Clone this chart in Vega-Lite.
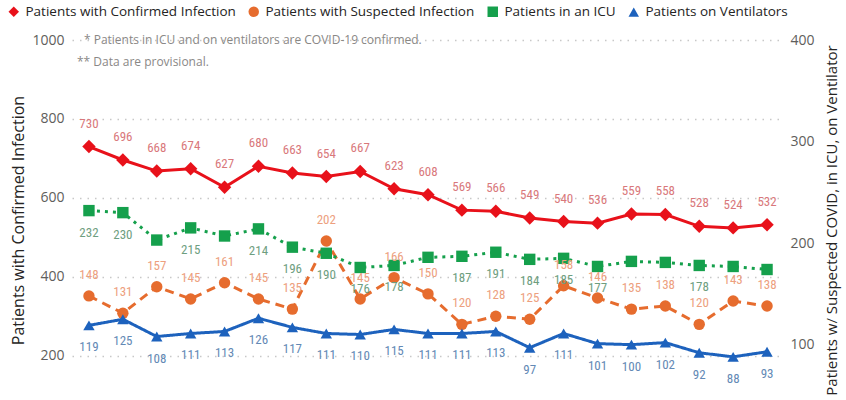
{
  "$schema": "https://vega.github.io/schema/vega-lite/v6.json",
  "width": 712,
  "height": 360,
  "autosize": {"type": "none"},
  "padding": {"left": 72, "top": 40, "right": 62, "bottom": 0},
  "background": "white",
  "config": {
    "view": {"stroke": null},
    "font": "Open Sans",
    "legend": {
      "orient": "none",
      "legendX": -65,
      "legendY": -35,
      "direction": "horizontal",
      "labelFontSize": 13.5,
      "labelFont": "Open Sans",
      "labelColor": "#252423",
      "labelLimit": 400,
      "symbolSize": 110,
      "labelOffset": 5,
      "columnPadding": 9,
      "symbolOpacity": 1
    }
  },
  "data": {
    "values": [
      {"day": 1, "series": "Patients with Confirmed Infection", "value": 730},
      {"day": 2, "series": "Patients with Confirmed Infection", "value": 696},
      {"day": 3, "series": "Patients with Confirmed Infection", "value": 668},
      {"day": 4, "series": "Patients with Confirmed Infection", "value": 674},
      {"day": 5, "series": "Patients with Confirmed Infection", "value": 627},
      {"day": 6, "series": "Patients with Confirmed Infection", "value": 680},
      {"day": 7, "series": "Patients with Confirmed Infection", "value": 663},
      {"day": 8, "series": "Patients with Confirmed Infection", "value": 654},
      {"day": 9, "series": "Patients with Confirmed Infection", "value": 667},
      {"day": 10, "series": "Patients with Confirmed Infection", "value": 623},
      {"day": 11, "series": "Patients with Confirmed Infection", "value": 608},
      {"day": 12, "series": "Patients with Confirmed Infection", "value": 569},
      {"day": 13, "series": "Patients with Confirmed Infection", "value": 566},
      {"day": 14, "series": "Patients with Confirmed Infection", "value": 549},
      {"day": 15, "series": "Patients with Confirmed Infection", "value": 540},
      {"day": 16, "series": "Patients with Confirmed Infection", "value": 536},
      {"day": 17, "series": "Patients with Confirmed Infection", "value": 559},
      {"day": 18, "series": "Patients with Confirmed Infection", "value": 558},
      {"day": 19, "series": "Patients with Confirmed Infection", "value": 528},
      {"day": 20, "series": "Patients with Confirmed Infection", "value": 524},
      {"day": 21, "series": "Patients with Confirmed Infection", "value": 532},
      {"day": 1, "series": "Patients with Suspected Infection", "value": 148},
      {"day": 2, "series": "Patients with Suspected Infection", "value": 131},
      {"day": 3, "series": "Patients with Suspected Infection", "value": 157},
      {"day": 4, "series": "Patients with Suspected Infection", "value": 145},
      {"day": 5, "series": "Patients with Suspected Infection", "value": 161},
      {"day": 6, "series": "Patients with Suspected Infection", "value": 145},
      {"day": 7, "series": "Patients with Suspected Infection", "value": 135},
      {"day": 8, "series": "Patients with Suspected Infection", "value": 202},
      {"day": 9, "series": "Patients with Suspected Infection", "value": 145},
      {"day": 10, "series": "Patients with Suspected Infection", "value": 166},
      {"day": 11, "series": "Patients with Suspected Infection", "value": 150},
      {"day": 12, "series": "Patients with Suspected Infection", "value": 120},
      {"day": 13, "series": "Patients with Suspected Infection", "value": 128},
      {"day": 14, "series": "Patients with Suspected Infection", "value": 125},
      {"day": 15, "series": "Patients with Suspected Infection", "value": 158},
      {"day": 16, "series": "Patients with Suspected Infection", "value": 146},
      {"day": 17, "series": "Patients with Suspected Infection", "value": 135},
      {"day": 18, "series": "Patients with Suspected Infection", "value": 138},
      {"day": 19, "series": "Patients with Suspected Infection", "value": 120},
      {"day": 20, "series": "Patients with Suspected Infection", "value": 143},
      {"day": 21, "series": "Patients with Suspected Infection", "value": 138},
      {"day": 1, "series": "Patients in an ICU", "value": 232},
      {"day": 2, "series": "Patients in an ICU", "value": 230},
      {"day": 3, "series": "Patients in an ICU", "value": 203},
      {"day": 4, "series": "Patients in an ICU", "value": 215},
      {"day": 5, "series": "Patients in an ICU", "value": 207},
      {"day": 6, "series": "Patients in an ICU", "value": 214},
      {"day": 7, "series": "Patients in an ICU", "value": 196},
      {"day": 8, "series": "Patients in an ICU", "value": 190},
      {"day": 9, "series": "Patients in an ICU", "value": 176},
      {"day": 10, "series": "Patients in an ICU", "value": 178},
      {"day": 11, "series": "Patients in an ICU", "value": 186},
      {"day": 12, "series": "Patients in an ICU", "value": 187},
      {"day": 13, "series": "Patients in an ICU", "value": 191},
      {"day": 14, "series": "Patients in an ICU", "value": 184},
      {"day": 15, "series": "Patients in an ICU", "value": 185},
      {"day": 16, "series": "Patients in an ICU", "value": 177},
      {"day": 17, "series": "Patients in an ICU", "value": 182},
      {"day": 18, "series": "Patients in an ICU", "value": 181},
      {"day": 19, "series": "Patients in an ICU", "value": 178},
      {"day": 20, "series": "Patients in an ICU", "value": 177},
      {"day": 21, "series": "Patients in an ICU", "value": 174},
      {"day": 1, "series": "Patients on Ventilators", "value": 119},
      {"day": 2, "series": "Patients on Ventilators", "value": 125},
      {"day": 3, "series": "Patients on Ventilators", "value": 108},
      {"day": 4, "series": "Patients on Ventilators", "value": 111},
      {"day": 5, "series": "Patients on Ventilators", "value": 113},
      {"day": 6, "series": "Patients on Ventilators", "value": 126},
      {"day": 7, "series": "Patients on Ventilators", "value": 117},
      {"day": 8, "series": "Patients on Ventilators", "value": 111},
      {"day": 9, "series": "Patients on Ventilators", "value": 110},
      {"day": 10, "series": "Patients on Ventilators", "value": 115},
      {"day": 11, "series": "Patients on Ventilators", "value": 111},
      {"day": 12, "series": "Patients on Ventilators", "value": 111},
      {"day": 13, "series": "Patients on Ventilators", "value": 113},
      {"day": 14, "series": "Patients on Ventilators", "value": 97},
      {"day": 15, "series": "Patients on Ventilators", "value": 111},
      {"day": 16, "series": "Patients on Ventilators", "value": 101},
      {"day": 17, "series": "Patients on Ventilators", "value": 100},
      {"day": 18, "series": "Patients on Ventilators", "value": 102},
      {"day": 19, "series": "Patients on Ventilators", "value": 92},
      {"day": 20, "series": "Patients on Ventilators", "value": 88},
      {"day": 21, "series": "Patients on Ventilators", "value": 93}
    ]
  },
  "encoding": {
    "x": {"field": "day", "type": "ordinal", "scale": {"type": "point", "padding": 0.5}, "axis": null}
  },
  "layer": [
    {
      "encoding": {
        "y": {
          "field": "value", "type": "quantitative",
          "scale": {"domain": [88, 1000], "nice": false, "zero": false},
          "axis": {
            "orient": "left",
            "values": [200, 400, 600, 800, 1000],
            "format": "d",
            "grid": true, "gridDash": [1.5, 6], "gridColor": "#C8C8C8", "gridWidth": 1.5,
            "domain": false, "ticks": false,
            "labelFontSize": 14, "labelColor": "#605E5C", "labelPadding": 8, "labelFont": "Open Sans",
            "title": "Patients with Confirmed Infection",
            "titleFontSize": 16, "titleFontWeight": "normal", "titleColor": "#252423", "titleFont": "Open Sans",
            "titlePadding": 5
          }
        }
      },
      "layer": [
        {
          "transform": [{"filter": {"field": "series", "equal": "Patients with Confirmed Infection"}}],
          "mark": {"type": "line", "color": "#E8111A", "strokeWidth": 3}
        },
        {
          "transform": [{"filter": {"field": "series", "equal": "Patients with Confirmed Infection"}}],
          "mark": {"type": "point", "filled": true, "opacity": 1, "size": 180},
          "encoding": {
            "color": {"field": "series", "type": "nominal", "title": null,
              "scale": {"domain": ["Patients with Confirmed Infection", "Patients with Suspected Infection", "Patients in an ICU", "Patients on Ventilators"],
                        "range": ["#E8111A", "#E66C2E", "#15A04C", "#1D62BD"]}},
            "shape": {"field": "series", "type": "nominal", "title": null,
              "scale": {"domain": ["Patients with Confirmed Infection", "Patients with Suspected Infection", "Patients in an ICU", "Patients on Ventilators"],
                        "range": ["diamond", "circle", "square", "triangle-up"]}}
          }
        },
        {
          "transform": [{"filter": {"field": "series", "equal": "Patients with Confirmed Infection"}}],
          "mark": {"type": "text", "dy": -23, "color": "#D9787B", "font": "Roboto Condensed, Liberation Sans Narrow, DejaVu Sans Condensed, Roboto", "fontSize": 13},
          "encoding": {"text": {"field": "value", "type": "quantitative"}}
        }
      ]
    },
    {
      "transform": [{"filter": {"not": {"field": "series", "equal": "Patients with Confirmed Infection"}}}],
      "encoding": {
        "y": {
          "field": "value", "type": "quantitative",
          "scale": {"domain": [45.5, 400], "nice": false, "zero": false},
          "axis": {
            "orient": "right",
            "values": [100, 200, 300, 400],
            "grid": false, "domain": false, "ticks": false,
            "labelFontSize": 14, "labelColor": "#605E5C", "labelPadding": 6, "labelFont": "Open Sans",
            "title": "Patients w/ Suspected COVID, in ICU, on Ventilator",
            "titleFontSize": 15, "titleFontWeight": "normal", "titleColor": "#252423", "titleFont": "Open Sans",
            "titleAngle": 270, "titleBaseline": "top",
            "titlePadding": 10
          }
        }
      },
      "layer": [
        {
          "mark": {"type": "line", "strokeWidth": 3},
          "encoding": {
            "stroke": {"field": "series", "type": "nominal", "legend": null,
              "scale": {"domain": ["Patients with Suspected Infection", "Patients in an ICU", "Patients on Ventilators"],
                        "range": ["#E66C2E", "#15A04C", "#1D62BD"]}},
            "strokeDash": {"field": "series", "type": "nominal", "legend": null,
              "scale": {"domain": ["Patients with Suspected Infection", "Patients in an ICU", "Patients on Ventilators"],
                        "range": [[9, 6], [3, 5], [1, 0]]}}
          }
        },
        {
          "mark": {"type": "point", "filled": true, "opacity": 1, "size": 130},
          "encoding": {
            "color": {"field": "series", "type": "nominal", "title": null},
            "shape": {"field": "series", "type": "nominal", "title": null}
          }
        },
        {
          "transform": [{"filter": {"field": "series", "equal": "Patients with Suspected Infection"}}],
          "mark": {"type": "text", "dy": -21, "color": "#EDA07E", "font": "Roboto Condensed, Liberation Sans Narrow, DejaVu Sans Condensed, Roboto", "fontSize": 13},
          "encoding": {"text": {"field": "value", "type": "quantitative"}}
        },
        {
          "transform": [{"filter": {"field": "series", "equal": "Patients in an ICU"}}, {"filter": {"not": {"field": "day", "oneOf": [3, 5, 11, 17, 18, 20, 21]}}}],
          "mark": {"type": "text", "dy": 22, "color": "#6E9E80", "font": "Roboto Condensed, Liberation Sans Narrow, DejaVu Sans Condensed, Roboto", "fontSize": 13},
          "encoding": {"text": {"field": "value", "type": "quantitative"}}
        },
        {
          "transform": [{"filter": {"field": "series", "equal": "Patients on Ventilators"}}],
          "mark": {"type": "text", "dy": 22, "color": "#6389B5", "font": "Roboto Condensed, Liberation Sans Narrow, DejaVu Sans Condensed, Roboto", "fontSize": 13},
          "encoding": {"text": {"field": "value", "type": "quantitative"}}
        }
      ]
    },
    {
      "data": {"values": [{"day": 1, "note": "* Patients in ICU and on ventilators are COVID-19 confirmed."}]},
      "mark": {"type": "text", "align": "left", "baseline": "middle", "dx": -5, "color": "#8A8886", "fontSize": 12, "font": "Open Sans"},
      "encoding": {
        "y": {"datum": 1000, "scale": {"domain": [88, 1000], "nice": false, "zero": false}, "axis": null},
        "text": {"field": "note", "type": "nominal"}
      }
    },
    {
      "data": {"values": [{"day": 1, "note": "** Data are provisional."}]},
      "mark": {"type": "text", "align": "left", "baseline": "middle", "dx": -12, "dy": 22, "color": "#8A8886", "fontSize": 12, "font": "Open Sans"},
      "encoding": {
        "y": {"datum": 1000, "scale": {"domain": [88, 1000], "nice": false, "zero": false}, "axis": null},
        "text": {"field": "note", "type": "nominal"}
      }
    }
  ],
  "resolve": {"scale": {"y": "independent"}}
}
